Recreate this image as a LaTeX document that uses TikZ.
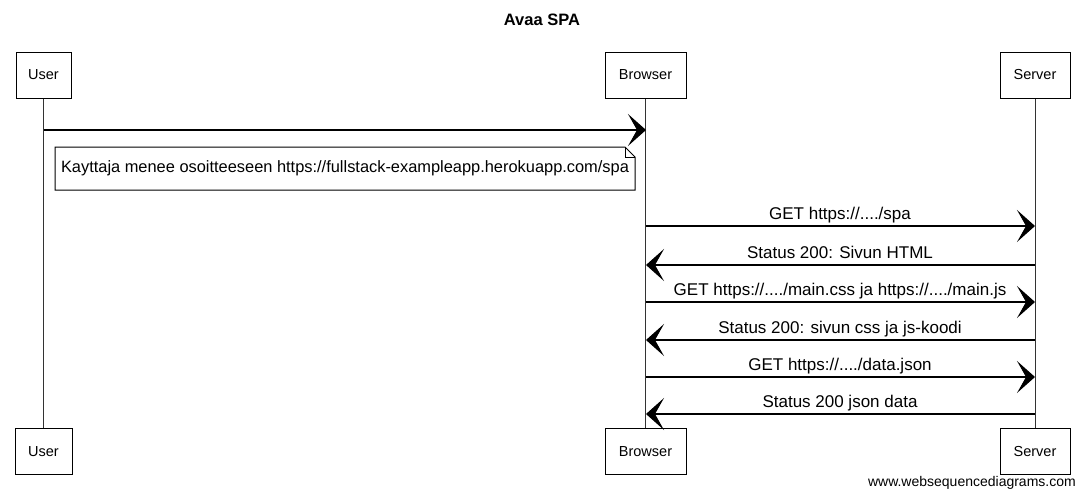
\documentclass[tikz,border=0pt]{standalone}
\usepackage{fontspec}
\setmainfont{Liberation Sans}
\usetikzlibrary{arrows.meta}
\begin{document}
\begin{tikzpicture}[x=1pt,y=-1pt,
  actor/.style={draw=black, line width=1pt, fill=white, minimum height=46pt, inner sep=0pt, font=\fontsize{14.5}{16}\selectfont},
  life/.style={draw=black!80, line width=0.9pt},
  msg/.style={draw=black, line width=1.1pt, -{Stealth[length=18pt, width=32pt, inset=9pt]}},
  lbl/.style={font=\fontsize{17}{19}\selectfont, inner sep=0pt, anchor=base}
]
\useasboundingbox (0,0) rectangle (1085,498);
\node[font=\fontsize{16.5}{18}\selectfont\bfseries] (title) at (542,20) {Avaa SPA};

% actors top
\node[actor, minimum width=55pt] (userT) at (43.5,75) {User};
\node[actor, minimum width=81pt] (browserT) at (645.5,75) {Browser};
\node[actor, minimum width=70pt] (serverT) at (1035,75) {Server};
% actors bottom
\node[actor, minimum width=57pt] (userB) at (43.5,451.5) {User};
\node[actor, minimum width=81pt] (browserB) at (645.5,451.5) {Browser};
\node[actor, minimum width=70pt] (serverB) at (1035,451.5) {Server};

% lifelines
\draw[life] (userT.south) -- (userB.north);
\draw[life] (browserT.south) -- (browserB.north);
\draw[life] (serverT.south) -- (serverB.north);

% first message
\coordinate (u1) at (44,130);
\coordinate (b1) at (646,130);
\draw[msg] (u1) -- (b1);

% note
\coordinate (n1) at (55,147);
\coordinate (n2) at (625,147);
\coordinate (n3) at (635,157);
\coordinate (n4) at (635,190);
\coordinate (n5) at (55,190);
\draw[line width=1pt, fill=white] (n1) -- (n2) -- (n3) -- (n4) -- (n5) -- cycle;
\draw[line width=0.7pt] (n2) -- (625,157) -- (n3);
\node[font=\fontsize{16.4}{18}\selectfont, inner sep=0pt] (note) at (345,168.5) {Kayttaja menee osoitteeseen https://fullstack-exampleapp.herokuapp.com/spa};

% messages browser <-> server
\foreach \y/\t [count=\i] in {
  226/{GET https://..../spa},
  265/{Status 200: Sivun HTML},
  302/{GET https://..../main.css ja https://..../main.js},
  340/{Status 200: sivun css ja js-koodi},
  377/{GET https://..../data.json},
  414/{Status 200 json data}}{
  \coordinate (bm\i) at (646,\y);
  \coordinate (sm\i) at (1035,\y);
  \node[lbl] (m\i) at (840,\y-7) {\t};
}
\draw[msg] (bm1) -- (sm1);
\draw[msg] (sm2) -- (bm2);
\draw[msg] (bm3) -- (sm3);
\draw[msg] (sm4) -- (bm4);
\draw[msg] (bm5) -- (sm5);
\draw[msg] (sm6) -- (bm6);

\node[font=\fontsize{14}{16}\selectfont, anchor=east, inner sep=0pt] (wm) at (1076,483) {www.websequencediagrams.com};
\end{tikzpicture}
\end{document}
